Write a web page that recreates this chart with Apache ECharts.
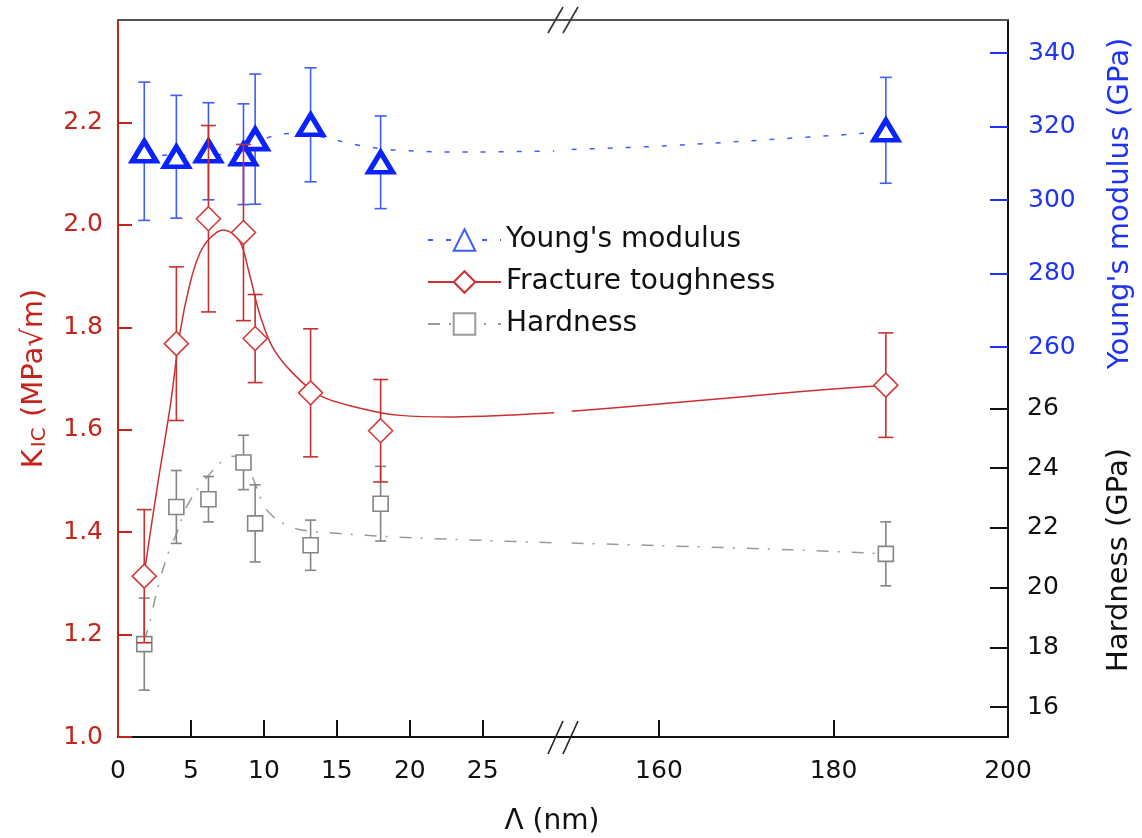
<!DOCTYPE html>
<html>
<head>
<meta charset="utf-8">
<script src="https://cdn.jsdelivr.net/npm/echarts@6/dist/echarts.min.js"></script>
<style>
  html, body { margin: 0; padding: 0; background: #fff; }
  #chart { width: 1142px; height: 838px; }
</style>
</head>
<body>
<div id="chart"></div>
<script>
// measured points (Λ in nm)
const lambda = [1.8, 4.0, 6.2, 8.6, 9.4, 13.2, 18.0, 186];
const young = [313.3, 311.8, 313.3, 312.5, 316.6, 320.5, 310.3, 319.0];
const youngErr = [18.8, 16.7, 13.2, 13.7, 17.7, 15.5, 12.6, 14.4];
const kic = [1.314, 1.768, 2.012, 1.985, 1.778, 1.672, 1.598, 1.687];
const kicErr = [0.130, 0.150, 0.182, 0.172, 0.086, 0.125, 0.100, 0.102];
const hardness = [18.11, 22.70, 22.96, 24.19, 22.15, 21.42, 22.81, 21.13];
const hardnessErr = [1.54, 1.22, 0.76, 0.91, 1.29, 0.84, 1.25, 1.07];

// guide curves
const youngFitX = [1.8, 4.0, 7.0, 8.6, 10.4, 11.8, 14.0, 16.4, 19.1, 23.9, 29.9, 150, 161, 176, 183, 186];
const youngFitY = [312.3, 312.2, 312.4, 313.5, 317.2, 318.1, 317.2, 315.0, 313.6, 313.1, 313.4, 313.8, 314.8, 317.0, 318.1, 318.7];
const kicFitX = [1.8, 2.7, 3.6, 4.25, 4.93, 5.6, 6.3, 7.2, 8.3, 9.0, 9.7, 10.6, 12.0, 13.8, 16.6, 19.3, 23.0, 26.5, 29.9, 150, 160, 176, 186];
const kicFitY = [1.32, 1.49, 1.65, 1.79, 1.885, 1.944, 1.974, 1.99, 1.97, 1.905, 1.827, 1.761, 1.71, 1.667, 1.642, 1.628, 1.625, 1.628, 1.633, 1.636, 1.65, 1.674, 1.687];
const hardFitX = [1.8, 2.2, 2.7, 3.4, 4.0, 4.7, 6.1, 7.9, 8.7, 9.3, 10.2, 11.3, 12.5, 14.7, 19.3, 23.9, 29.9, 150, 175, 186];
const hardFitY = [18.2, 18.9, 19.95, 21.1, 21.8, 22.7, 23.7, 24.4, 24.35, 23.6, 22.6, 22.16, 21.94, 21.83, 21.69, 21.6, 21.5, 21.49, 21.27, 21.13];

// tick labels
const xTicksLeft = [0, 5, 10, 15, 20, 25];
const xTicksRight = [160, 180, 200];
const kicTicks = [1.0, 1.2, 1.4, 1.6, 1.8, 2.0, 2.2];
const youngTicks = [260, 280, 300, 320, 340];
const hardTicks = [16, 18, 20, 22, 24, 26];

const FONT = 'DejaVu Sans';
const RED = '#c4241c';
const RED_MARK = '#d23c3c';
const BLUE = '#1f33f5';
const BLUE_MARK = '#0a22ff';
const BLUE_BAR = '#3f5cff';
const GRAY = '#858585';
const BREAK_AT = 100; // anything above this lives on the right-hand segment

const chart = echarts.init(document.getElementById('chart'));

// split a list of [x, ...] pairs into left / right segment
function pick(xs, ys, side) {
  const out = [];
  xs.forEach((x, i) => {
    if ((side === 0 && x < BREAK_AT) || (side === 1 && x > BREAK_AT)) out.push([x, ys[i]]);
  });
  return out;
}

function errorBars(side, yIdx, vals, errs, color, cap, z) {
  const data = [];
  lambda.forEach((x, i) => {
    if ((side === 0 && x < BREAK_AT) || (side === 1 && x > BREAK_AT)) {
      data.push([x, vals[i] - errs[i], vals[i] + errs[i]]);
    }
  });
  return {
    type: 'custom',
    xAxisIndex: side,
    yAxisIndex: yIdx,
    z: z,
    silent: true,
    encode: { x: 0, y: [1, 2] },
    data: data,
    renderItem: (params, api) => {
      const lo = api.coord([api.value(0), api.value(1)]);
      const hi = api.coord([api.value(0), api.value(2)]);
      const st = { stroke: color, lineWidth: 1.6 };
      return {
        type: 'group',
        children: [
          { type: 'line', shape: { x1: lo[0], y1: lo[1], x2: hi[0], y2: hi[1] }, style: st },
          { type: 'line', shape: { x1: lo[0] - cap, y1: lo[1], x2: lo[0] + cap, y2: lo[1] }, style: st },
          { type: 'line', shape: { x1: hi[0] - cap, y1: hi[1], x2: hi[0] + cap, y2: hi[1] }, style: st },
        ],
      };
    },
  };
}

function fitLine(name, side, yIdx, xs, ys, color, dash, symbol, z) {
  return {
    name: name,
    type: 'line',
    xAxisIndex: side,
    yAxisIndex: yIdx,
    data: pick(xs, ys, side),
    smooth: 0.35,
    showSymbol: false,
    symbol: symbol,
    silent: true,
    z: z,
    itemStyle: { color: color },
    lineStyle: { color: color, width: 1.5, type: dash },
  };
}

function markers(side, yIdx, vals, symbol, size, color, bw, z) {
  return {
    type: 'scatter',
    xAxisIndex: side,
    yAxisIndex: yIdx,
    data: pick(lambda, vals, side),
    symbol: symbol,
    symbolSize: size,
    silent: true,
    z: z,
    itemStyle: { color: '#fff', borderColor: color, borderWidth: bw, opacity: 1 },
  };
}

// y-axis index per grid: [K_IC, Young, Hardness]
const yIdx = [[0, 1, 2], [3, 4, 5]];

const series = [];
[0, 1].forEach((s) => {
  series.push(fitLine("Young's modulus", s, yIdx[s][1], youngFitX, youngFitY, BLUE_BAR, [5, 13], 'emptyTriangle', 2));
  series.push(fitLine('Fracture toughness', s, yIdx[s][0], kicFitX, kicFitY, '#cc3030', 'solid', 'emptyDiamond', 2));
  series.push(fitLine('Hardness', s, yIdx[s][2], hardFitX, hardFitY, '#9a9a9a', [12, 9, 2, 12], 'emptyRect', 2));
});
[0, 1].forEach((s) => {
  series.push(errorBars(s, yIdx[s][2], hardness, hardnessErr, GRAY, 5.5, 3));
  series.push(markers(s, yIdx[s][2], hardness, 'rect', 15, GRAY, 1.6, 4));
  series.push(errorBars(s, yIdx[s][1], young, youngErr, BLUE_BAR, 6, 5));
  series.push(markers(s, yIdx[s][1], young, 'triangle', [24, 20], BLUE_MARK, 5, 6));
  series.push(errorBars(s, yIdx[s][0], kic, kicErr, '#c83030', 7.5, 7));
  series.push(markers(s, yIdx[s][0], kic, 'diamond', [24, 24], RED_MARK, 1.6, 8));
});

const hidden = { show: false, splitLine: { show: false } };

function bottomX(grid, min, max, tickVals, labelVals, nameOpts) {
  return Object.assign({
    type: 'value', gridIndex: grid, position: 'bottom', min: min, max: max,
    axisLine: { show: true, onZero: false, lineStyle: { color: '#111', width: 2 } },
    axisTick: { show: true, inside: true, length: 17, customValues: tickVals, lineStyle: { color: '#111', width: 2 } },
    axisLabel: { customValues: labelVals, color: '#111', fontSize: 25, fontFamily: FONT, margin: 22 },
    splitLine: { show: false },
  }, nameOpts || {});
}

function topX(grid, min, max) {
  return {
    type: 'value', gridIndex: grid, position: 'top', min: min, max: max,
    axisLine: { show: true, onZero: false, lineStyle: { color: '#555', width: 2 } },
    axisTick: { show: false }, axisLabel: { show: false }, splitLine: { show: false },
  };
}

const option = {
  animation: false,
  backgroundColor: '#fff',
  textStyle: { fontFamily: FONT },
  grid: [
    { left: 118, top: 20, width: 445, height: 717, outerBoundsMode: 'none' },
    { left: 563, top: 20, width: 445, height: 717, outerBoundsMode: 'none' },
  ],
  legend: {
    data: ["Young's modulus", 'Fracture toughness', 'Hardness'],
    orient: 'vertical',
    left: 427,
    top: 226,
    padding: 0,
    itemWidth: 73,
    itemHeight: 27,
    itemGap: 14,
    selectedMode: false,
    textStyle: { fontSize: 28, color: '#111', fontFamily: FONT },
  },
  xAxis: [
    bottomX(0, 0, 30.5, [5, 10, 15, 20, 25], xTicksLeft, {
      name: 'Λ (nm)', nameLocation: 'middle', nameGap: 71,
      nameTextStyle: { fontSize: 28, color: '#111', fontFamily: FONT, padding: [0, 0, 0, 423] },
    }),
    bottomX(1, 149, 200, [160, 180], xTicksRight),
    topX(0, 0, 30.5),
    topX(1, 149, 200),
  ],
  yAxis: [
    {
      type: 'value', gridIndex: 0, position: 'left', min: 1.0, max: 2.4,
      axisLine: { show: true, lineStyle: { color: RED, width: 2 } },
      axisTick: { show: true, inside: true, length: 14, customValues: kicTicks, lineStyle: { color: RED, width: 2 } },
      axisLabel: { customValues: kicTicks, color: RED, fontSize: 25, fontFamily: FONT, margin: 15, formatter: (v) => v.toFixed(1) },
      splitLine: { show: false },
      name: '{k|K}{s|IC}{k| (MPa√m)}',
      nameLocation: 'middle',
      nameGap: 68,
      nameTextStyle: {
        rich: {
          k: { fontSize: 29, color: RED, fontFamily: FONT, verticalAlign: 'top', lineHeight: 30 },
          s: { fontSize: 20, color: RED, fontFamily: FONT, verticalAlign: 'bottom', lineHeight: 20, padding: [22, 1, 0, 2] },
        },
      },
    },
    Object.assign({ type: 'value', gridIndex: 0, min: 154, max: 349 }, hidden),
    Object.assign({ type: 'value', gridIndex: 0, min: 15, max: 39 }, hidden),
    Object.assign({ type: 'value', gridIndex: 1, min: 1.0, max: 2.4 }, hidden),
    {
      type: 'value', gridIndex: 1, position: 'right', offset: 0, min: 154, max: 349,
      axisLine: { show: false },
      axisTick: { show: true, inside: true, length: 18, customValues: youngTicks, lineStyle: { color: BLUE, width: 2 } },
      axisLabel: { customValues: youngTicks, color: BLUE, fontSize: 25, fontFamily: FONT, margin: 20 },
      splitLine: { show: false },
      name: "Young's modulus (GPa)",
      nameLocation: 'middle',
      nameGap: 98,
      nameTextStyle: { fontSize: 29, color: BLUE, fontFamily: FONT, padding: [0, 0, 0, 350] },
    },
    {
      type: 'value', gridIndex: 1, position: 'right', offset: 0, min: 15, max: 39,
      axisLine: { show: true, lineStyle: { color: '#111', width: 2 } },
      axisTick: { show: true, inside: true, length: 18, customValues: hardTicks, lineStyle: { color: '#111', width: 2 } },
      axisLabel: { customValues: hardTicks, color: '#111', fontSize: 25, fontFamily: FONT, margin: 19 },
      splitLine: { show: false },
      name: 'Hardness (GPa)',
      nameLocation: 'middle',
      nameGap: 97,
      nameTextStyle: { fontSize: 29, color: '#111', fontFamily: FONT, padding: [0, 363, 0, 0] },
    },
  ],
  // the "//" axis break marks
  graphic: [
    { type: 'line', z: 100, shape: { x1: 548, y1: 33, x2: 563, y2: 7 }, style: { stroke: '#333', lineWidth: 1.6 } },
    { type: 'line', z: 100, shape: { x1: 563, y1: 33, x2: 578, y2: 7 }, style: { stroke: '#333', lineWidth: 1.6 } },
    { type: 'line', z: 100, shape: { x1: 548, y1: 754, x2: 563, y2: 721 }, style: { stroke: '#222', lineWidth: 1.6 } },
    { type: 'line', z: 100, shape: { x1: 563, y1: 754, x2: 578, y2: 721 }, style: { stroke: '#222', lineWidth: 1.6 } },
  ],
  series: series,
};

chart.setOption(option);
</script>
</body>
</html>
